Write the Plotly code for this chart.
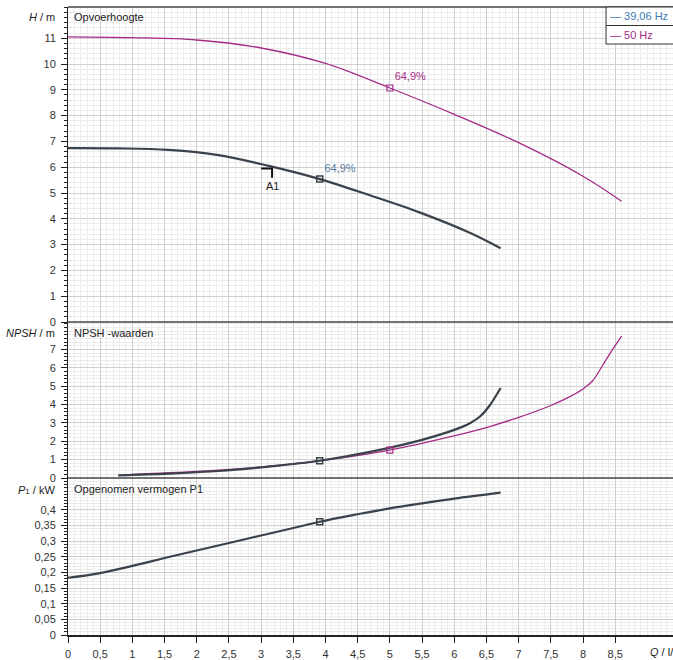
import plotly.graph_objects as go

# ---- Pump curves: flow Q (l/s) ----
# 39,06 Hz
q_h_39 = [0.0, 0.78, 1.56, 2.34, 3.12, 3.91, 4.69, 5.47, 6.25, 6.72]
h_39 = [6.74, 6.73, 6.67, 6.47, 6.05, 5.54, 4.91, 4.24, 3.45, 2.86]
# 50 Hz
q_h_50 = [0.0, 1.0, 2.0, 3.0, 4.0, 5.0, 6.0, 7.0, 8.0, 8.6]
h_50 = [11.05, 11.02, 10.93, 10.62, 10.02, 9.07, 8.05, 6.95, 5.65, 4.68]

q_npsh_39 = [0.78, 1.56, 2.34, 3.12, 3.91, 4.69, 5.47, 6.0, 6.25, 6.4, 6.55, 6.72]
npsh_39 = [0.14, 0.24, 0.38, 0.62, 0.94, 1.42, 2.05, 2.62, 3.0, 3.35, 3.95, 4.9]
q_npsh_50 = [1.0, 2.0, 3.0, 4.0, 5.0, 6.0, 6.5, 7.0, 7.5, 7.75, 8.0, 8.15, 8.3, 8.45, 8.6]
npsh_50 = [0.2, 0.36, 0.6, 0.98, 1.52, 2.3, 2.75, 3.3, 3.95, 4.35, 4.85, 5.3, 6.1, 6.95, 7.73]

q_p1_39 = [0.0, 0.5, 1.0, 1.5, 2.0, 2.5, 3.0, 3.5, 3.91, 4.5, 5.0, 5.5, 6.0, 6.72]
p1_39 = [0.183, 0.198, 0.221, 0.246, 0.270, 0.294, 0.318, 0.342, 0.362, 0.386, 0.405, 0.421, 0.436, 0.455]

# best-efficiency points
bep_q = {"39": 3.91, "50": 5.0}
bep_h = {"39": 5.54, "50": 9.07}
bep_npsh = {"39": 0.94, "50": 1.52}
bep_p1 = 0.362
bep_label = "64,9%"

# duty point A1
duty_q = 3.17
duty_h = 5.95

x_ticks = [0, 0.5, 1, 1.5, 2, 2.5, 3, 3.5, 4, 4.5, 5, 5.5, 6, 6.5, 7, 7.5, 8, 8.5]
h_ticks = list(range(0, 12))
npsh_ticks = list(range(0, 8))
p1_ticks = [0, 0.05, 0.1, 0.15, 0.2, 0.25, 0.3, 0.35, 0.4]

C39 = "#3a424c"
C39_TXT = "#3d7ab5"
C50 = "#a62b86"
FONT = "Liberation Sans, Arial, sans-serif"

W, H = 673, 660
L, R, T, B = 68, 0, 7, 25
PW, PH = W - L - R, H - T - B


def px(x):
    return (x - L) / PW


def py(y):
    return (H - B - y) / PH


fig = go.Figure()

# head
fig.add_trace(go.Scatter(x=q_h_50, y=h_50, mode="lines", line=dict(color=C50, width=1.3),
                         xaxis="x3", yaxis="y", line_shape="spline"))
fig.add_trace(go.Scatter(x=q_h_39, y=h_39, mode="lines", line=dict(color=C39, width=2.2),
                         xaxis="x3", yaxis="y", line_shape="spline"))
# NPSH
fig.add_trace(go.Scatter(x=q_npsh_50, y=npsh_50, mode="lines", line=dict(color=C50, width=1.3),
                         xaxis="x2", yaxis="y2", line_shape="spline"))
fig.add_trace(go.Scatter(x=q_npsh_39, y=npsh_39, mode="lines", line=dict(color=C39, width=2.2),
                         xaxis="x2", yaxis="y2", line_shape="spline"))
# power
fig.add_trace(go.Scatter(x=q_p1_39, y=p1_39, mode="lines", line=dict(color=C39, width=2.2),
                         xaxis="x", yaxis="y3", line_shape="spline"))

# efficiency markers
sq = dict(symbol="square-open", size=6)
fig.add_trace(go.Scatter(x=[bep_q["50"]], y=[bep_h["50"]], mode="markers+text",
                         marker=dict(color=C50, line=dict(width=1.2), **sq),
                         text=[bep_label], textposition="top right",
                         textfont=dict(color=C50, size=11, family=FONT),
                         xaxis="x3", yaxis="y"))
fig.add_trace(go.Scatter(x=[bep_q["39"]], y=[bep_h["39"]], mode="markers+text",
                         marker=dict(color=C39, line=dict(width=1.5), **sq),
                         text=[bep_label], textposition="top right",
                         textfont=dict(color="#5b7c9c", size=11, family=FONT),
                         xaxis="x3", yaxis="y"))
fig.add_trace(go.Scatter(x=[bep_q["50"]], y=[bep_npsh["50"]], mode="markers",
                         marker=dict(color=C50, line=dict(width=1.2), **sq),
                         xaxis="x2", yaxis="y2"))
fig.add_trace(go.Scatter(x=[bep_q["39"]], y=[bep_npsh["39"]], mode="markers",
                         marker=dict(color=C39, line=dict(width=1.5), **sq),
                         xaxis="x2", yaxis="y2"))
fig.add_trace(go.Scatter(x=[bep_q["39"]], y=[bep_p1], mode="markers",
                         marker=dict(color=C39, line=dict(width=1.5), **sq),
                         xaxis="x", yaxis="y3"))

# duty point mark
fig.add_trace(go.Scatter(x=[duty_q - 0.17, duty_q, duty_q], y=[duty_h, duty_h, duty_h - 0.36],
                         mode="lines", line=dict(color="#111111", width=2),
                         xaxis="x3", yaxis="y"))

grid_major = "#cfcfcf"
grid_minor = "#ececec"


def yax(domain, rng, ticks, minor_dtick):
    return dict(domain=domain, range=rng, tickvals=ticks, showgrid=True, gridcolor=grid_major,
                gridwidth=1, ticks="outside", ticklen=6, tickcolor="#222", tickwidth=1,
                showline=True, linecolor="#222", linewidth=1, zeroline=False,
                tickfont=dict(family=FONT, size=11, color="#333"), ticklabelstandoff=3,
                minor=dict(dtick=minor_dtick, ticks="outside", ticklen=3, tickcolor="#222",
                           showgrid=True, gridcolor=grid_minor, gridwidth=1),
                anchor="x", fixedrange=True)


xr = [0, PW / 64.375]
dy1 = (H - B - 322) / PH
dy2 = (H - B - 478) / PH

xcommon = dict(range=xr, showgrid=True, gridcolor=grid_major, gridwidth=1, zeroline=False,
               tickvals=x_ticks,
               minor=dict(dtick=0.1, showgrid=True, gridcolor=grid_minor, gridwidth=1))

fig.update_layout(
    width=W, height=H, margin=dict(l=L, r=R, t=T, b=B),
    paper_bgcolor="white", plot_bgcolor="white", showlegend=False,
    separators=", ",
    font=dict(family=FONT, size=11, color="#333"),
    xaxis=dict(**xcommon, anchor="y3", ticks="outside", ticklen=6, tickcolor="#222",
               showline=True, linecolor="#222", linewidth=1.5,
               tickfont=dict(family=FONT, size=11, color="#333"), ticklabelstandoff=2),
    xaxis2=dict(**xcommon, anchor="y2", matches="x", showticklabels=False),
    xaxis3=dict(**xcommon, anchor="y", matches="x", showticklabels=False),
    yaxis=yax([dy1, 1], [0, (322 - 7) / 25.8], h_ticks, 0.2),
    yaxis2=yax([dy2, dy1], [0, (477.5 - 322) / 18.3], npsh_ticks, 0.2),
    yaxis3=yax([0, dy2], [0, (635.3 - 478) / 313.4], p1_ticks, 0.01),
)

shapes = []
# panel borders
for yy in (7, 322, 478):
    shapes.append(dict(type="line", xref="paper", yref="paper", x0=0, x1=1, y0=py(yy), y1=py(yy),
                       line=dict(color="#444", width=1.3)))
# legend box
shapes.append(dict(type="rect", xref="paper", yref="paper", x0=px(606), x1=px(680),
                   y0=py(44), y1=py(7), fillcolor="white", line=dict(color="#333", width=1)))
shapes.append(dict(type="line", xref="paper", yref="paper", x0=px(606), x1=px(680),
                   y0=py(25.5), y1=py(25.5), line=dict(color="#333", width=1)))
fig.update_layout(shapes=shapes)

ann = []


def text(xp, yp, s, anchor="left", color="#222", size=11):
    ann.append(dict(x=px(xp), y=py(yp), xref="paper", yref="paper", text=s, showarrow=False,
                    xanchor=anchor, yanchor="middle", font=dict(family=FONT, size=size, color=color)))


text(57, 17, "<i>H</i> / m", anchor="right")
text(57, 333, "<i>NPSH</i> / m", anchor="right")
text(57, 490, "<i>P</i><span style='font-size:8px'>1</span> / kW", anchor="right")
text(72, 17, "Opvoerhoogte")
text(72, 333, "NPSH -waarden")
text(72, 489, "Opgenomen vermogen P1")
text(648, 652, "<i>Q</i> / l/s")
text(608, 16, "— 39,06 Hz", color=C39_TXT, size=11)
text(608, 35, "— 50 Hz", color=C50, size=11)
ann.append(dict(x=duty_q, y=duty_h - 0.36, xref="x3", yref="y", text="A1", showarrow=False,
                xanchor="center", yanchor="top", font=dict(family=FONT, size=11, color="#222")))
fig.update_layout(annotations=ann)

fig.write_html("out.html")
